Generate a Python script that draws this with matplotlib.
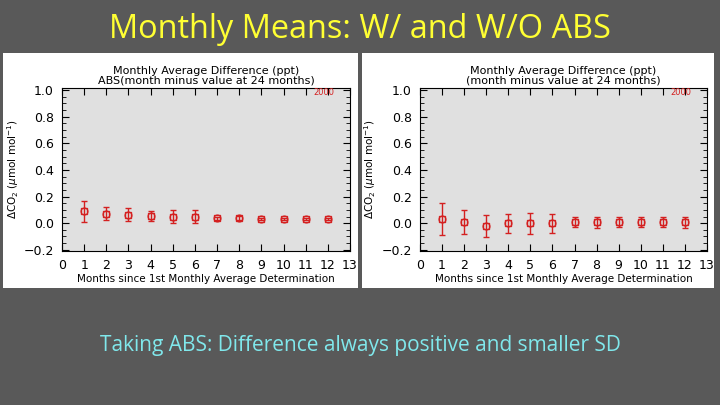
import matplotlib.pyplot as plt
from matplotlib.patches import Rectangle
from matplotlib.ticker import MultipleLocator

months = [1, 2, 3, 4, 5, 6, 7, 8, 9, 10, 11, 12]

# with ABS
abs_mean = [0.09, 0.07, 0.065, 0.055, 0.05, 0.05, 0.035, 0.038, 0.033, 0.033, 0.031, 0.031]
abs_err = [0.08, 0.05, 0.052, 0.038, 0.05, 0.048, 0.011, 0.014, 0.008, 0.008, 0.008, 0.008]

# without ABS
raw_mean = [0.03, 0.01, -0.02, 0.0, 0.0, 0.0, 0.01, 0.005, 0.01, 0.01, 0.01, 0.005]
raw_err = [0.12, 0.09, 0.085, 0.072, 0.078, 0.072, 0.04, 0.04, 0.036, 0.036, 0.036, 0.04]

panel_titles = ['Monthly Average Difference (ppt)\nABS(month minus value at 24 months)',
                'Monthly Average Difference (ppt)\n(month minus value at 24 months)']

bg = '#595959'
red = '#d42020'

fig = plt.figure(figsize=(7.2, 4.05), dpi=100, facecolor=bg)

# white panels behind the plots
fig.patches.append(Rectangle((0.004, 0.289), 0.493, 0.580, transform=fig.transFigure,
                             facecolor='white', edgecolor='none', zorder=-1))
fig.patches.append(Rectangle((0.503, 0.289), 0.488, 0.580, transform=fig.transFigure,
                             facecolor='white', edgecolor='none', zorder=-1))

fig.text(0.5, 0.928, 'Monthly Means: W/ and W/O ABS', color='#ffff33',
         fontsize=23.4, family='Open Sans', ha='center', va='center')
fig.text(0.5, 0.148, 'Taking ABS: Difference always positive and smaller SD', color='#80e8ec',
         fontsize=15, family='Open Sans', ha='center', va='center')

positions = [[0.0861, 0.380, 0.400, 0.4025], [0.5833, 0.380, 0.3986, 0.4025]]
datasets = [(abs_mean, abs_err), (raw_mean, raw_err)]

for pos, (mean, err), title in zip(positions, datasets, panel_titles):
    ax = fig.add_axes(pos)
    ax.set_facecolor('#e0e0e0')
    ax.errorbar(months, mean, yerr=err, fmt='none', ecolor=red, elinewidth=1,
                capsize=2, capthick=1)
    ax.plot(months, mean, 's', mfc='none', mec=red, ms=4, mew=1)
    ax.plot(months, mean, 'o', mfc='none', mec=red, ms=5, mew=0.8)
    ax.set_xlim(0, 13)
    ax.set_ylim(-0.21, 1.015)
    ax.set_xticks(range(14))
    ax.yaxis.set_major_locator(MultipleLocator(0.2))
    ax.yaxis.set_minor_locator(MultipleLocator(0.05))
    ax.set_yticklabels(['%.1f' % v if v >= 0 else '\u2212%.1f' % abs(v) for v in ax.get_yticks()])
    ax.tick_params(direction='in', top=True, right=True, labelsize=9, length=5, width=0.8, pad=6)
    ax.tick_params(which='minor', direction='in', right=True, length=3, width=0.6)
    ax.set_xlabel('Months since 1st Monthly Average Determination', fontsize=7.5, labelpad=1)
    ax.set_ylabel(r'$\Delta$CO$_2$ ($\mu$mol mol$^{-1}$)', fontsize=7.5, labelpad=2)
    ax.set_title(title, fontsize=8, linespacing=0.95, pad=3)
    ax.text(11.8, 0.98, '2000', color=red, fontsize=6, ha='center', va='center')
    for s in ax.spines.values():
        s.set_linewidth(0.8)

plt.savefig('out.png', dpi=100, facecolor=bg)
